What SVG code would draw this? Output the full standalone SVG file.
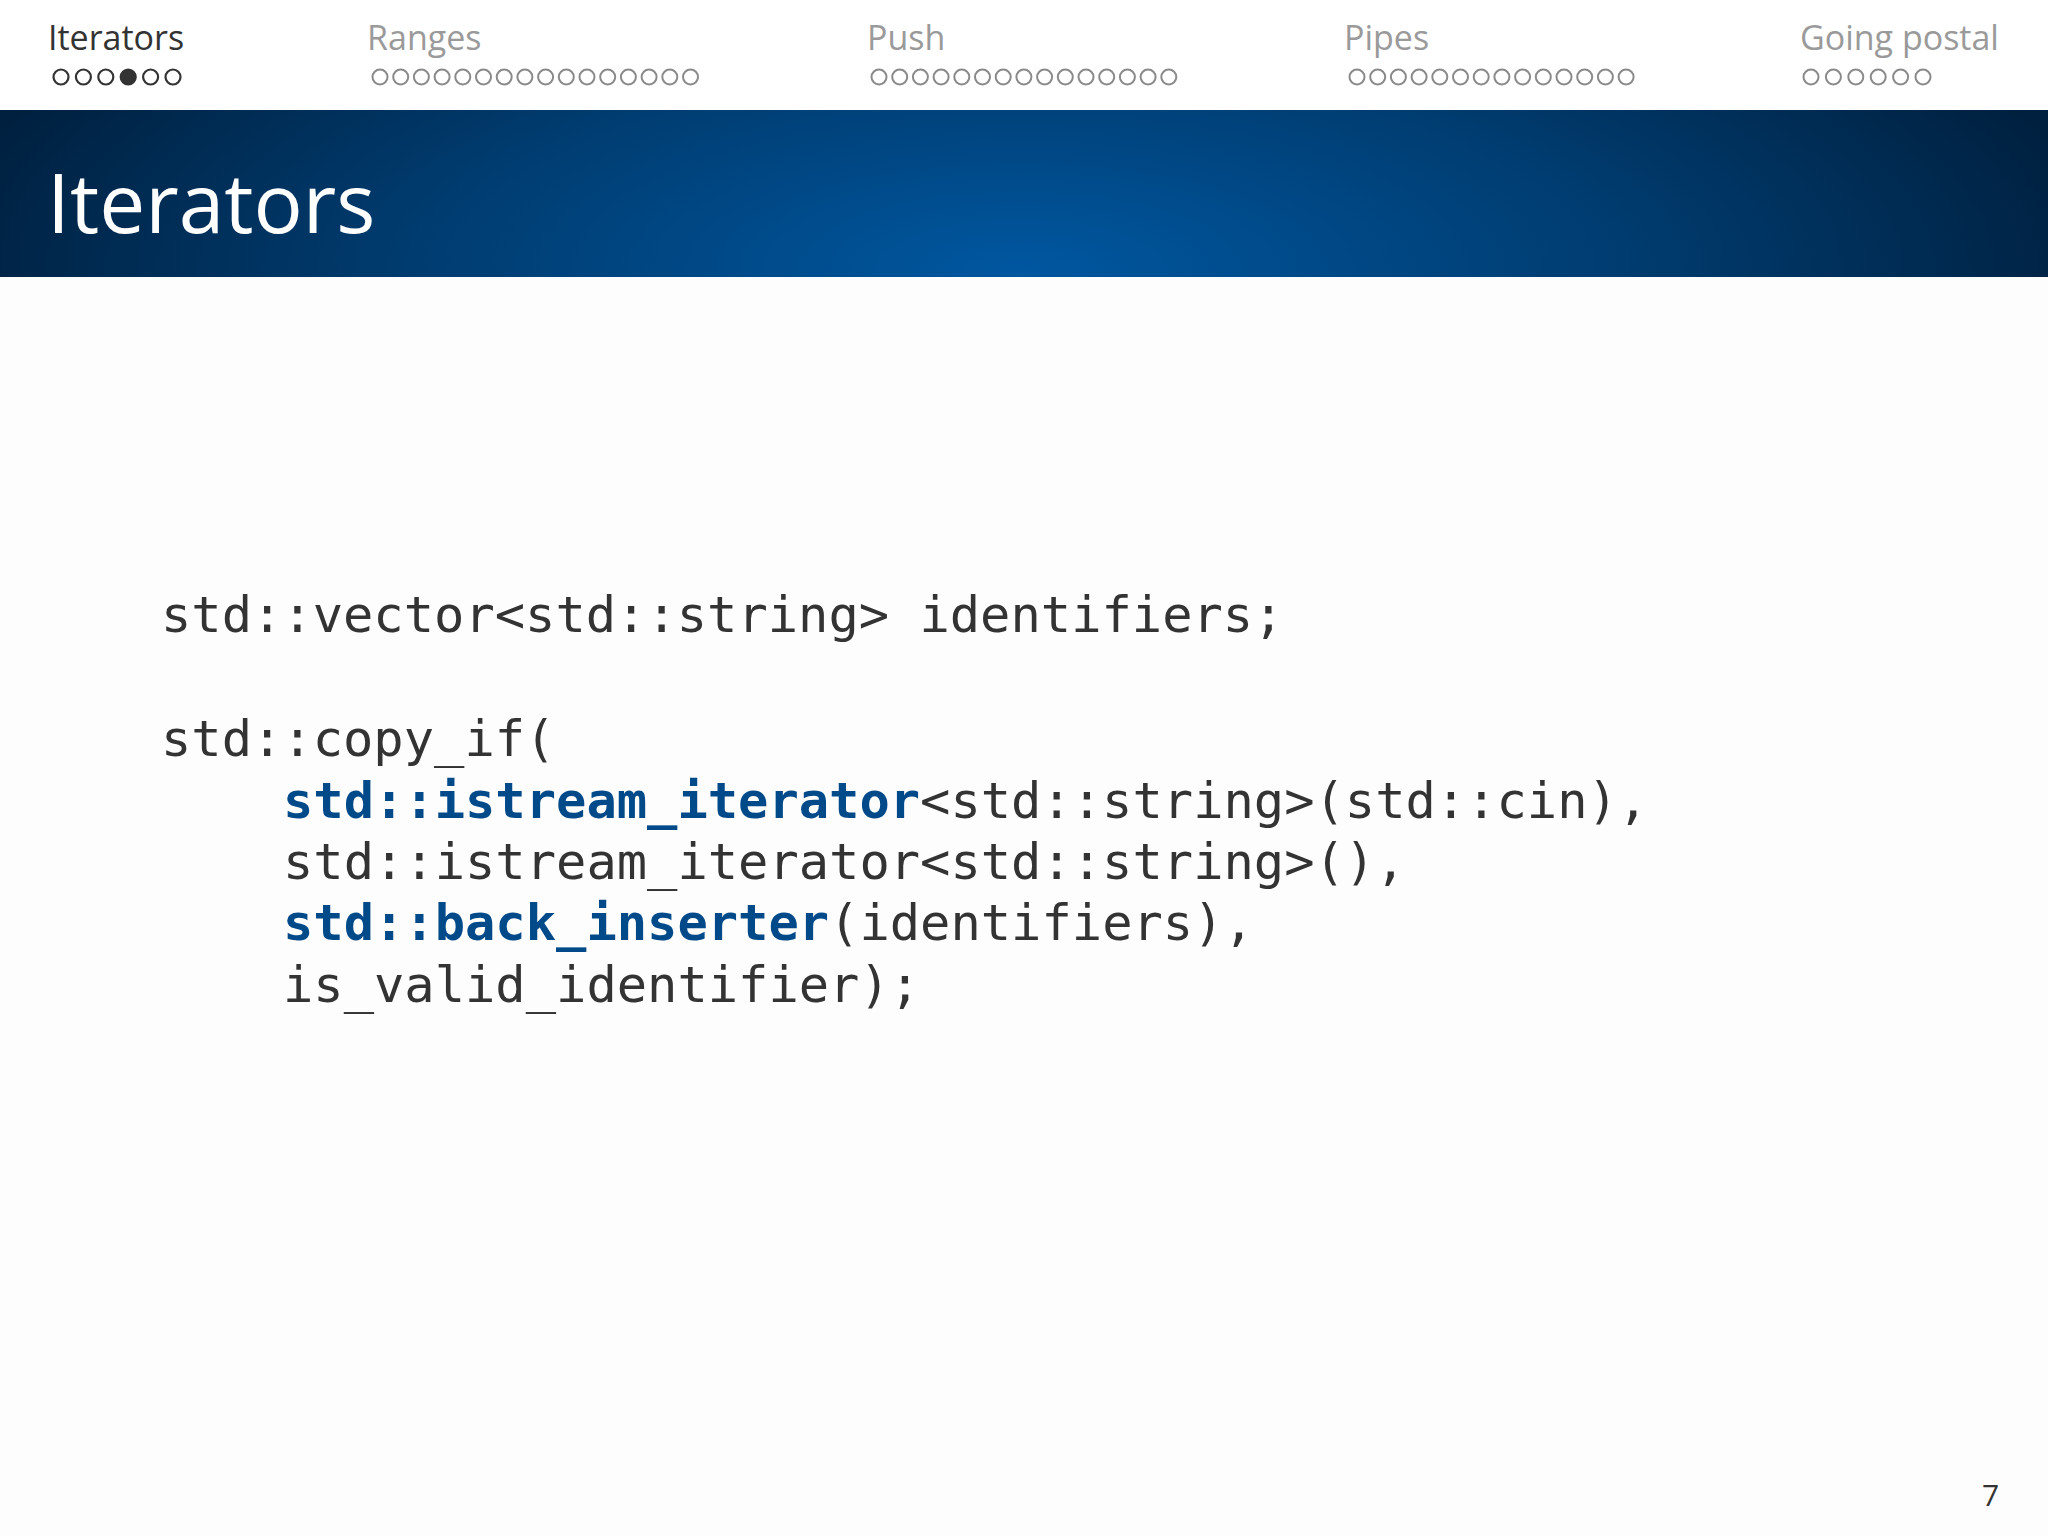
<svg xmlns="http://www.w3.org/2000/svg" width="2048" height="1536" viewBox="0 0 2048 1536">
<defs>
<radialGradient id="bar" cx="1020" cy="270" r="1100" gradientUnits="userSpaceOnUse" gradientTransform="translate(1020 270) scale(1 0.35) translate(-1020 -270)">
<stop offset="0" stop-color="#0057a0"/><stop offset="0.55" stop-color="#003c70"/><stop offset="1" stop-color="#00203f"/>
</radialGradient>
<style>
.nav{font-family:"Open Sans","Noto Sans",sans-serif;font-size:34px;fill:#9a9a9a}
.cur{fill:#333}
.d{fill:none;stroke:#8a8a8a;stroke-width:2}
.dc{fill:none;stroke:#333;stroke-width:2.2}
.code{font-family:"DejaVu Sans Mono",monospace;font-size:50.4px;fill:#333}
.b{fill:#004a8a;font-weight:bold}
</style>
</defs>
<rect width="2048" height="1536" fill="#fdfdfd"/>
<rect width="2048" height="110" fill="#fff"/>
<rect y="110" width="2048" height="167" fill="url(#bar)"/>
<g id="nav">
<text class="nav cur" x="48" y="50">Iterators</text>
<text class="nav" x="367" y="50">Ranges</text>
<text class="nav" x="867" y="50">Push</text>
<text class="nav" x="1344" y="50">Pipes</text>
<text class="nav" x="1800" y="50">Going postal</text>
<g class="dc"><circle cx="61" cy="77" r="7.5"/><circle cx="83.4" cy="77" r="7.5"/><circle cx="105.8" cy="77" r="7.5"/><circle cx="128.2" cy="77" r="7.5" fill="#333"/><circle cx="150.6" cy="77" r="7.5"/><circle cx="173" cy="77" r="7.5"/></g>
<g class="d">
<circle cx="380" cy="77" r="7.5"/><circle cx="400.7" cy="77" r="7.5"/><circle cx="421.4" cy="77" r="7.5"/><circle cx="442.1" cy="77" r="7.5"/><circle cx="462.8" cy="77" r="7.5"/><circle cx="483.5" cy="77" r="7.5"/><circle cx="504.2" cy="77" r="7.5"/><circle cx="524.9" cy="77" r="7.5"/><circle cx="545.6" cy="77" r="7.5"/><circle cx="566.3" cy="77" r="7.5"/><circle cx="587" cy="77" r="7.5"/><circle cx="607.7" cy="77" r="7.5"/><circle cx="628.4" cy="77" r="7.5"/><circle cx="649.1" cy="77" r="7.5"/><circle cx="669.8" cy="77" r="7.5"/><circle cx="690.5" cy="77" r="7.5"/>
<circle cx="879" cy="77" r="7.5"/><circle cx="899.7" cy="77" r="7.5"/><circle cx="920.4" cy="77" r="7.5"/><circle cx="941.1" cy="77" r="7.5"/><circle cx="961.8" cy="77" r="7.5"/><circle cx="982.5" cy="77" r="7.5"/><circle cx="1003.2" cy="77" r="7.5"/><circle cx="1023.9" cy="77" r="7.5"/><circle cx="1044.6" cy="77" r="7.5"/><circle cx="1065.3" cy="77" r="7.5"/><circle cx="1086" cy="77" r="7.5"/><circle cx="1106.7" cy="77" r="7.5"/><circle cx="1127.4" cy="77" r="7.5"/><circle cx="1148.1" cy="77" r="7.5"/><circle cx="1168.8" cy="77" r="7.5"/>
<circle cx="1357" cy="77" r="7.5"/><circle cx="1377.7" cy="77" r="7.5"/><circle cx="1398.4" cy="77" r="7.5"/><circle cx="1419.1" cy="77" r="7.5"/><circle cx="1439.8" cy="77" r="7.5"/><circle cx="1460.5" cy="77" r="7.5"/><circle cx="1481.2" cy="77" r="7.5"/><circle cx="1501.9" cy="77" r="7.5"/><circle cx="1522.6" cy="77" r="7.5"/><circle cx="1543.3" cy="77" r="7.5"/><circle cx="1564" cy="77" r="7.5"/><circle cx="1584.7" cy="77" r="7.5"/><circle cx="1605.4" cy="77" r="7.5"/><circle cx="1626.1" cy="77" r="7.5"/>
<circle cx="1811" cy="77" r="7.5"/><circle cx="1833.4" cy="77" r="7.5"/><circle cx="1855.8" cy="77" r="7.5"/><circle cx="1878.2" cy="77" r="7.5"/><circle cx="1900.6" cy="77" r="7.5"/><circle cx="1923" cy="77" r="7.5"/>
</g>
</g>
<text id="title" x="47" y="233" font-family="'Open Sans','Noto Sans',sans-serif" font-size="82" fill="#fff">Iterators</text>
<g id="code" class="code">
<text x="161" y="632">std::vector&lt;std::string&gt; identifiers;</text>
<text x="161" y="756">std::copy_if(</text>
<text x="283" y="818"><tspan class="b">std::istream_iterator</tspan>&lt;std::string&gt;(std::cin),</text>
<text x="283" y="879">std::istream_iterator&lt;std::string&gt;(),</text>
<text x="283" y="940"><tspan class="b">std::back_inserter</tspan>(identifiers),</text>
<text x="283" y="1002">is_valid_identifier);</text>
</g>
<text x="1982" y="1506" font-family="'Open Sans','Noto Sans',sans-serif" font-size="30" fill="#333">7</text>
</svg>
